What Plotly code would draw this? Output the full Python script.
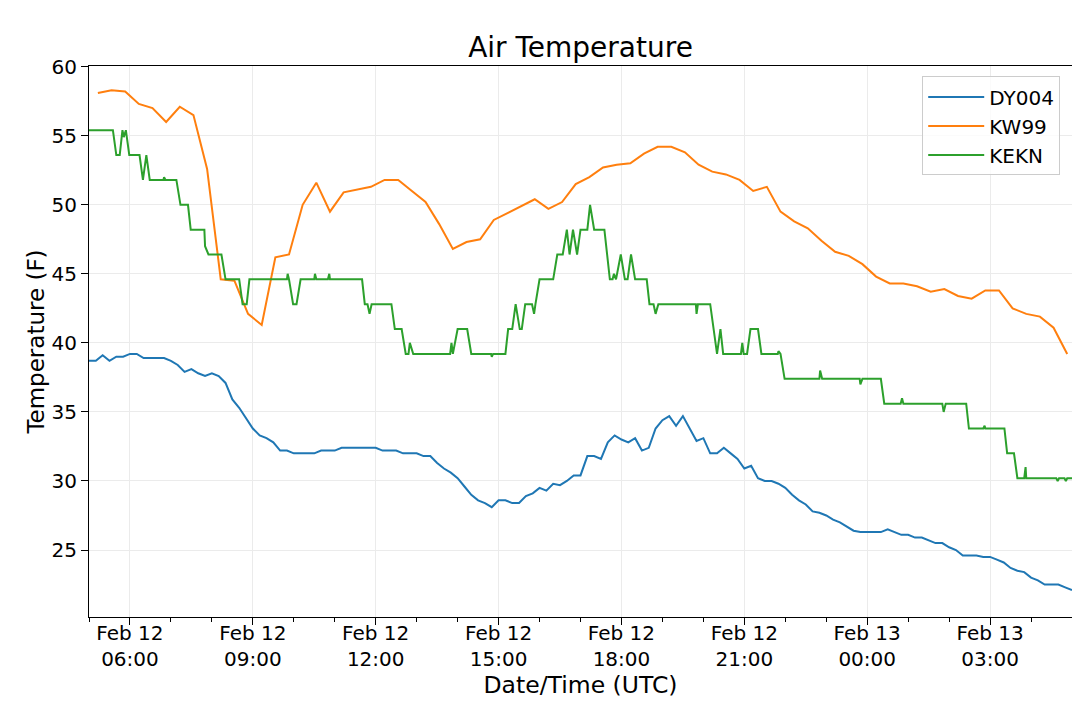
import pandas as pd
import plotly.graph_objects as go

# DY004: every 10 minutes from Feb 12 05:00 UTC
dy004_start = "2019-02-12 05:00"
dy004_temp = [
    38.7, 38.7, 39.1, 38.7, 39.0, 39.0, 39.2, 39.2, 38.9, 38.9,
    38.9, 38.9, 38.7, 38.4, 37.9, 38.1, 37.8, 37.6, 37.8, 37.6,
    37.1, 35.9, 35.3, 34.5, 33.8, 33.3, 33.1, 32.8, 32.2, 32.2,
    32.0, 32.0, 32.0, 32.0, 32.2, 32.2, 32.2, 32.4, 32.4, 32.4,
    32.4, 32.4, 32.4, 32.2, 32.2, 32.2, 32.0, 32.0, 32.0, 31.8,
    31.8, 31.3, 30.9, 30.6, 30.2, 29.6, 29.0, 28.6, 28.4, 28.1,
    28.6, 28.6, 28.4, 28.4, 28.9, 29.1, 29.5, 29.3, 29.8, 29.7,
    30.0, 30.4, 30.4, 31.8, 31.8, 31.6, 32.8, 33.3, 33.0, 32.8,
    33.1, 32.2, 32.4, 33.8, 34.4, 34.7, 34.0, 34.7, 33.8, 32.9,
    33.1, 32.0, 32.0, 32.4, 32.0, 31.6, 30.9, 31.1, 30.2, 30.0,
    30.0, 29.8, 29.5, 29.0, 28.6, 28.3, 27.8, 27.7, 27.5, 27.2,
    27.0, 26.7, 26.4, 26.3, 26.3, 26.3, 26.3, 26.5, 26.3, 26.1,
    26.1, 25.9, 25.9, 25.7, 25.5, 25.5, 25.2, 25.0, 24.6, 24.6,
    24.6, 24.5, 24.5, 24.3, 24.1, 23.7, 23.5, 23.4, 23.0, 22.8,
    22.5, 22.5, 22.5, 22.3, 22.1,
]

# KW99: every 20 minutes from 05:13
kw99_start = "2019-02-12 05:13"
kw99_temp = [
    58.1, 58.3, 58.2, 57.3, 57.0, 56.0, 57.1, 56.5, 52.6, 44.6,
    44.5, 42.1, 41.3, 46.2, 46.4, 50.0, 51.6, 49.5, 50.9, 51.1,
    51.3, 51.8, 51.8, 51.0, 50.2, 48.6, 46.8, 47.3, 47.5, 48.9,
    49.4, 49.9, 50.4, 49.7, 50.2, 51.5, 52.0, 52.7, 52.9, 53.0,
    53.7, 54.2, 54.2, 53.8, 52.9, 52.4, 52.2, 51.8, 51.0, 51.3,
    49.5, 48.8, 48.3, 47.4, 46.6, 46.3, 45.7, 44.8, 44.3, 44.3,
    44.1, 43.7, 43.9, 43.4, 43.2, 43.8, 43.8, 42.5, 42.1, 41.9,
    41.1, 39.2,
]

# KEKN: minutes after 05:00 and temperature
kekn_minutes = [
    0, 35, 40, 45, 49, 51, 54, 59, 74, 79, 84, 89, 109, 110, 112, 128,
    134, 145, 149, 169, 170, 175, 194, 200, 220, 225, 231, 235, 290, 291,
    293, 299, 304, 310, 330, 331, 333, 350, 352, 353, 400, 404, 408, 411,
    414, 443, 448, 458, 464, 468, 470, 475, 529, 531, 533, 540, 554, 560,
    589, 590, 592, 610, 614, 620, 625, 631, 634, 639, 649, 652, 654, 660,
    680, 686, 694, 700, 704, 709, 715, 720, 730, 734, 740, 755, 763, 767,
    769, 772, 779, 785, 789, 794, 800, 817, 821, 827, 830, 834, 889, 890,
    892, 910, 920, 925, 929, 955, 957, 959, 964, 969, 980, 985, 1009, 1010,
    1013, 1019, 1070, 1071, 1074, 1129, 1130, 1133, 1160, 1165, 1189, 1191,
    1193, 1250, 1252, 1255, 1285, 1289, 1310, 1312, 1313, 1341, 1345, 1355,
    1360, 1370, 1372, 1373, 1417, 1419, 1421, 1429, 1431, 1433, 1440,
]
kekn_temp = [
    55.4, 55.4, 53.6, 53.6, 55.4, 54.9, 55.4, 53.6, 53.6, 51.8, 53.6, 51.8, 51.8, 52.0, 51.8, 51.8,
    50.0, 50.0, 48.2, 48.2, 47.0, 46.4, 46.4, 44.6, 44.6, 42.8, 42.8, 44.6, 44.6, 45.0,
    44.6, 42.8, 42.8, 44.6, 44.6, 45.0, 44.6, 44.6, 45.0, 44.6, 44.6, 42.8, 42.8, 42.1,
    42.8, 42.8, 41.0, 41.0, 39.2, 39.2, 40.0, 39.2, 39.2, 40.0, 39.2, 41.0, 41.0, 39.2,
    39.2, 39.0, 39.2, 39.2, 41.0, 41.0, 42.8, 41.0, 41.0, 42.8, 42.8, 42.1, 42.8, 44.6,
    44.6, 46.4, 46.4, 48.2, 46.4, 48.2, 46.4, 48.2, 48.2, 50.0, 48.2, 48.2, 44.6, 44.6,
    45.0, 44.6, 46.4, 44.6, 44.6, 46.4, 44.6, 44.6, 42.8, 42.8, 42.1, 42.8, 42.8, 42.1,
    42.8, 42.8, 39.2, 41.0, 39.2, 39.2, 40.0, 39.2, 39.2, 41.0, 41.0, 39.2, 39.2, 39.4,
    39.2, 37.4, 37.4, 38.0, 37.4, 37.4, 37.0, 37.4, 37.4, 35.6, 35.6, 36.0,
    35.6, 35.6, 35.0, 35.6, 35.6, 33.8, 33.8, 34.0, 33.8, 33.8, 32.0, 32.0,
    30.2, 30.2, 31.0, 30.2, 30.2, 30.0, 30.2, 30.2, 30.0, 30.2, 30.2,
]

y_ticks = [25, 30, 35, 40, 45, 50, 55, 60]

base = pd.Timestamp("2019-02-12 05:00")
dy004_time = pd.date_range(dy004_start, periods=len(dy004_temp), freq="10min")
kw99_time = pd.date_range(kw99_start, periods=len(kw99_temp), freq="20min")
kekn_time = base + pd.to_timedelta(kekn_minutes, unit="min")

fig = go.Figure()
fig.add_trace(go.Scatter(x=dy004_time, y=dy004_temp, mode="lines", name="DY004",
                         line=dict(color="#1f77b4", width=2)))
fig.add_trace(go.Scatter(x=kw99_time, y=kw99_temp, mode="lines", name="KW99",
                         line=dict(color="#ff7f0e", width=2)))
fig.add_trace(go.Scatter(x=kekn_time, y=kekn_temp, mode="lines", name="KEKN",
                         line=dict(color="#2ca02c", width=2)))

# the page has an 8px body margin, so the margins are shifted to compensate
font = "DejaVu Sans, Arial, sans-serif"
fig.update_layout(
    width=1080, height=711,
    margin=dict(l=81, r=16, t=58, b=102),
    paper_bgcolor="white", plot_bgcolor="white",
    font=dict(family=font, size=20, color="black"),
    title=dict(text="Air Temperature", x=0.5, xref="paper", y=1 - 39 / 711,
               yanchor="middle", font=dict(size=28), automargin=False),
    legend=dict(x=0.988, y=0.981, xanchor="right", yanchor="top",
                bgcolor="rgba(255,255,255,0.8)", bordercolor="#cccccc",
                borderwidth=1, font=dict(size=20), itemwidth=56),
    showlegend=True,
)
fig.update_xaxes(
    range=[base, base + pd.Timedelta(hours=24)],
    tick0="2019-02-12 00:00", dtick=3 * 3600 * 1000,
    tickformat="%b %d<br>%H:%M",
    ticks="outside", ticklen=7, tickcolor="black",
    ticklabelstandoff=-9,
    showline=True, linecolor="black", linewidth=1, mirror=True,
    showgrid=True, gridcolor="#ebebeb", gridwidth=1,
    minor=dict(dtick=3600 * 1000, ticks="outside", ticklen=4, tickcolor="black", showgrid=False),
    title=dict(text="Date/Time (UTC)", font=dict(size=23.5), standoff=2),
    zeroline=False, automargin=False,
)
fig.update_yaxes(
    range=[20.15, 60.05],
    tickvals=y_ticks,
    ticks="outside", ticklen=7, tickcolor="black",
    showline=True, linecolor="black", linewidth=1, mirror=True,
    showgrid=True, gridcolor="#ebebeb", gridwidth=1,
    title=dict(text="Temperature (F)", font=dict(size=23), standoff=0),
    zeroline=False, automargin=False,
)

fig.write_html("out.html")
